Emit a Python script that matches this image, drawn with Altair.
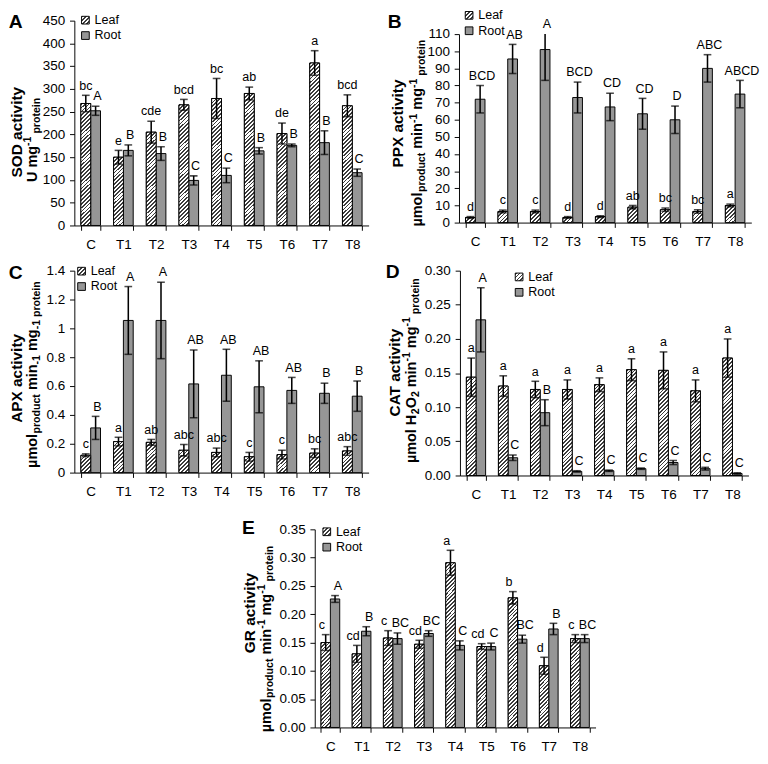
import altair as alt
import pandas as pd

FONT = "Liberation Sans"
ROOT_COLOR = "#969696"

cats = ["C", "T1", "T2", "T3", "T4", "T5", "T6", "T7", "T8"]
organs = ["Leaf", "Root"]

# A - SOD
sod_leaf = [268, 150, 205, 265, 279, 290, 202, 357, 263]
sod_leaf_err = [18, 15, 24, 12, 44, 14, 23, 27, 24]
sod_root = [252, 165, 158, 99, 110, 164, 176, 182, 116]
sod_root_err = [10, 12, 15, 10, 16, 7, 3, 26, 8]
sod_leaf_lab = ["bc", "e", "cde", "bcd", "bc", "ab", "de", "a", "bcd"]
sod_root_lab = ["A", "B", "B", "C", "C", "B", "B", "B", "C"]

# B - PPX
ppx_leaf = [3, 6.5, 6.5, 3, 3.5, 9, 7.5, 6.5, 10]
ppx_leaf_err = [0.5, 0.8, 0.8, 0.5, 0.5, 1, 1, 1, 0.8]
ppx_root = [72, 95.5, 101, 73, 67.5, 63.5, 60, 90, 75]
ppx_root_err = [8, 8.5, 18, 9, 8, 9, 8, 8, 8]
ppx_leaf_lab = ["d", "c", "c", "d", "d", "ab", "bc", "bc", "a"]
ppx_root_lab = ["BCD", "AB", "A", "BCD", "CD", "CD", "D", "ABC", "ABCD"]

# C - APX
apx_leaf = [0.12, 0.215, 0.21, 0.155, 0.14, 0.11, 0.125, 0.135, 0.15]
apx_leaf_err = [0.01, 0.03, 0.02, 0.04, 0.03, 0.03, 0.03, 0.03, 0.03]
apx_root = [0.31, 1.055, 1.055, 0.615, 0.675, 0.595, 0.57, 0.55, 0.53]
apx_root_err = [0.08, 0.235, 0.265, 0.235, 0.18, 0.18, 0.09, 0.07, 0.105]
apx_leaf_lab = ["c", "a", "ab", "abc", "abc", "c", "c", "bc", "abc"]
apx_root_lab = ["B", "A", "A", "AB", "AB", "AB", "AB", "B", "B"]

# D - CAT
cat_leaf = [0.144, 0.131, 0.126, 0.126, 0.133, 0.155, 0.154, 0.124, 0.172]
cat_leaf_err = [0.028, 0.015, 0.012, 0.014, 0.010, 0.016, 0.027, 0.016, 0.028]
cat_root = [0.228, 0.026, 0.092, 0.006, 0.007, 0.010, 0.019, 0.010, 0.003]
cat_root_err = [0.047, 0.004, 0.019, 0.001, 0.001, 0.001, 0.003, 0.002, 0.001]
cat_leaf_lab = ["a", "a", "a", "a", "a", "a", "a", "a", "a"]
cat_root_lab = ["A", "C", "B", "C", "C", "C", "C", "C", "C"]

# E - GR
gr_leaf = [0.150, 0.130, 0.158, 0.147, 0.291, 0.143, 0.229, 0.109, 0.157]
gr_leaf_err = [0.014, 0.015, 0.013, 0.007, 0.022, 0.005, 0.011, 0.015, 0.007]
gr_root = [0.227, 0.170, 0.157, 0.166, 0.145, 0.143, 0.156, 0.174, 0.157]
gr_root_err = [0.006, 0.008, 0.010, 0.005, 0.008, 0.006, 0.007, 0.010, 0.007]
gr_leaf_lab = ["c", "cd", "c", "cd", "a", "cd", "b", "d", "c"]
gr_root_lab = ["A", "B", "BC", "BC", "C", "C", "BC", "B", "BC"]


def make_df(leaf, leaf_err, root, root_err, leaf_lab, root_lab):
    rows = []
    for i, c in enumerate(cats):
        rows.append(dict(cat=c, organ="Leaf", value=leaf[i], err=leaf_err[i], lab=leaf_lab[i]))
        rows.append(dict(cat=c, organ="Root", value=root[i], err=root_err[i], lab=root_lab[i]))
    return pd.DataFrame(rows)


# ---------- hatch pattern (striped linear gradient) ----------
N_PER = 64
PERIOD = 4.0
FRAC = 0.45
_stops = []
for k in range(N_PER):
    a = k / N_PER
    b = (k + FRAC) / N_PER
    c = (k + 1) / N_PER
    _stops += [
        "{offset:%.5f,color:'#3c3c3c'}" % a,
        "{offset:%.5f,color:'#3c3c3c'}" % b,
        "{offset:%.5f,color:'#ffffff'}" % b,
        "{offset:%.5f,color:'#ffffff'}" % c,
    ]
STOPS = "[" + ",".join(_stops) + "]"


def hatch_expr(kpx, w=10.0):
    H = "(datum.value*%.6f)" % kpx
    den = "(%.3f+%s*%s)" % (w * w, H, H)
    return "{gradient:'linear',x1:0,y1:0,x2:%.4f/%s,y2:%.4f*%s/%s,stops:%s}" % (
        N_PER * PERIOD * w, den, N_PER * PERIOD, H, den, STOPS)


def legend_expr(s=8.0):
    d = N_PER * PERIOD * s / (2 * s * s)
    return "{gradient:'linear',x1:0,y1:0,x2:%.4f,y2:%.4f,stops:%s}" % (d, d, STOPS)


# ---------- rotated axis titles with sub/superscripts ----------
AW = {" ": 278, "-": 333, "1": 556, "2": 556, "A": 722, "C": 722, "D": 722, "G": 778,
      "H": 722, "O": 778, "P": 667, "R": 722, "S": 667, "T": 611, "U": 722, "X": 667,
      "a": 556, "c": 556, "d": 611, "e": 556, "g": 611, "i": 278, "l": 278, "m": 889,
      "n": 611, "o": 611, "p": 611, "r": 389, "t": 333, "u": 611, "v": 556, "y": 556,
      "µ": 611}
MAIN_FS = 15
SMALL_FS = 11
SHIFT = {"n": 0, "sup": -6, "sub": 3}


def tw(s, fs):
    return sum(AW.get(ch, 556) for ch in s) * fs / 1000.0


def title_marks(line1, line2, x1, x2, yc1, yc2):
    layers = [alt.Chart(pd.DataFrame({"t": [line1]})).mark_text(
        angle=270, align="center", baseline="alphabetic", font=FONT, fontSize=16,
        fontWeight="bold", color="black").encode(
        text="t:N", x=alt.value(x1), y=alt.value(yc1))]
    sizes = [MAIN_FS if kind == "n" else SMALL_FS for _, kind in line2]
    total = sum(tw(s, fs) for (s, _), fs in zip(line2, sizes))
    y = yc2 + total / 2.0
    for (s, kind), fs in zip(line2, sizes):
        lead = len(s) - len(s.lstrip(" "))
        ystart = y - tw(" " * lead, fs)
        layers.append(alt.Chart(pd.DataFrame({"t": [s.strip()]})).mark_text(
            angle=270, align="left", baseline="alphabetic", font=FONT, fontSize=fs,
            fontWeight="bold", color="black").encode(
            text="t:N", x=alt.value(x2 + SHIFT[kind]), y=alt.value(ystart)))
        y -= tw(s, fs)
    return layers


def panel(df, ymax, ticks, fmt, line1, line2, tpos, letter, width, height, leg_xy,
          let_xy, lab_dx=(0, 2), ytop=0):
    kpx = (height - ytop) / ymax
    if ytop:
        yscale = alt.Scale(domain=[0, ymax], nice=False, range=[height, ytop])
    else:
        yscale = alt.Scale(domain=[0, ymax], nice=False)
    yaxis = alt.Axis(values=ticks, format=fmt, title=None, labelPadding=5)

    def Y(f):
        return alt.Y(f, scale=yscale, axis=yaxis, stack=None)

    X = alt.X("cat:N", sort=cats, scale=alt.Scale(paddingInner=0.4, paddingOuter=0.2),
              axis=alt.Axis(title=None, labelAngle=0, tickBand="extent", labelPadding=8))
    XO = alt.XOffset("organ:N", sort=organs, scale=alt.Scale(paddingInner=0, paddingOuter=0))

    base = alt.Chart(df).transform_calculate(
        lo="datum.value - datum.err",
        hi="datum.value + datum.err",
        hc="min(datum.value + datum.err, %s)" % ymax,
    )
    bars = base.mark_bar(stroke="black", strokeWidth=1).encode(
        x=X, xOffset=XO, y=Y("value:Q"),
        fill=alt.Fill("organ:N", sort=organs,
                      scale=alt.Scale(domain=organs,
                                      range=[alt.ExprRef(expr=legend_expr()), ROOT_COLOR]),
                      legend=alt.Legend(orient="none", legendX=leg_xy[0], legendY=leg_xy[1],
                                        title=None, direction="vertical", symbolType="square",
                                        symbolSize=64, symbolStrokeColor="black",
                                        symbolStrokeWidth=1, labelFontSize=13, labelFont=FONT,
                                        labelColor="black", labelOffset=3, rowPadding=2,
                                        padding=0)),
    )
    hatch = base.transform_filter("datum.organ == 'Leaf'").transform_calculate(
        grad=hatch_expr(kpx)
    ).mark_bar(stroke="black", strokeWidth=1).encode(
        x=X, xOffset=XO, y=Y("value:Q"),
        fill=alt.Fill("grad:N", scale=None, legend=None),
    )
    rules = base.mark_rule(color="black", strokeWidth=1.6).encode(
        x=X, xOffset=XO, y=Y("lo:Q"), y2="hc:Q")
    cap_hi = base.transform_filter("datum.hi <= %s" % ymax).mark_tick(
        color="black", thickness=1.6, size=8, orient="horizontal").encode(
        x=X, xOffset=XO, y=Y("hi:Q"))
    cap_lo = base.mark_tick(color="black", thickness=1.6, size=8, orient="horizontal").encode(
        x=X, xOffset=XO, y=Y("lo:Q"))
    lab_leaf = base.transform_filter("datum.organ == 'Leaf'").mark_text(
        baseline="bottom", dy=-3, dx=lab_dx[0], fontSize=13, font=FONT, color="black").encode(
        x=X, xOffset=XO, y=Y("hc:Q"), text="lab:N")
    lab_root = base.transform_filter("datum.organ == 'Root'").mark_text(
        baseline="bottom", dy=-3, dx=lab_dx[1], fontSize=13, font=FONT, color="black").encode(
        x=X, xOffset=XO, y=Y("hc:Q"), text="lab:N")
    plet = alt.Chart(pd.DataFrame({"t": [letter]})).mark_text(
        fontSize=20, fontWeight="bold", font=FONT, color="black").encode(
        text="t:N", x=alt.value(let_xy[0]), y=alt.value(let_xy[1]))
    titles = title_marks(line1, line2, *tpos)
    return alt.layer(bars, hatch, rules, cap_hi, cap_lo, lab_leaf, lab_root, plet,
                     *titles).properties(width=width, height=height)


dfA = make_df(sod_leaf, sod_leaf_err, sod_root, sod_root_err, sod_leaf_lab, sod_root_lab)
dfB = make_df(ppx_leaf, ppx_leaf_err, ppx_root, ppx_root_err, ppx_leaf_lab, ppx_root_lab)
dfC = make_df(apx_leaf, apx_leaf_err, apx_root, apx_root_err, apx_leaf_lab, apx_root_lab)
dfD = make_df(cat_leaf, cat_leaf_err, cat_root, cat_root_err, cat_leaf_lab, cat_root_lab)
dfE = make_df(gr_leaf, gr_leaf_err, gr_root, gr_root_err, gr_leaf_lab, gr_root_lab)

L2_PROD = [("µmol", "n"), ("product", "sub"), (" min", "n"), ("-1", "sup"), (" mg", "n"),
           ("-1", "sup"), (" protein", "sub")]

pA = panel(dfA, 450, list(range(0, 451, 50)), "d",
           "SOD activity", [("U mg", "n"), ("-1", "sup"), (" protein", "sub")],
           (-54, -39, 116, 124), "A", 306, 213, (5, -7), (-61, 2))
pB = panel(dfB, 110, list(range(0, 111, 10)), "d",
           "PPX activity", L2_PROD,
           (-58, -38, 107, 117), "B", 304, 210, (4, -12), (-67, 2), ytop=14)
pC = panel(dfC, 1.4, [0, 0.2, 0.4, 0.6, 0.8, 1.0, 1.2, 1.4], ".1~f",
           "APX activity",
           [("µmol", "n"), ("product", "sub"), (" min", "n"), ("-1", "sub"), (" mg", "n"),
            ("-1 protein", "sub")],
           (-54, -39, 112, 108), "C", 306, 210, (1, -6), (-61, 3))
pD = panel(dfD, 0.30, [0, 0.05, 0.10, 0.15, 0.20, 0.25, 0.30], ".2f",
           "CAT activity",
           [("µmol H", "n"), ("2", "sub"), ("O", "n"), ("2", "sub"), (" min", "n"),
            ("-1", "sup"), (" mg", "n"), ("-1", "sup"), (" protein", "sub")],
           (-62, -45.5, 106, 104), "D", 300, 213, (55, 0), (-70, 2))
pE = panel(dfE, 0.35, [0, 0.05, 0.10, 0.15, 0.20, 0.25, 0.30, 0.35], ".2f",
           "GR activity", L2_PROD,
           (-62, -46, 87, 114), "E", 292, 206, (6, -4), (-69, -1), lab_dx=(-4, 3))

spacer = alt.Chart(pd.DataFrame({"t": [""]})).mark_text().encode(text="t:N").properties(
    width=150, height=20)


def indep(c):
    return c.resolve_scale(fill="independent", x="independent", y="independent",
                           xOffset="independent").resolve_legend(fill="independent")


row1 = indep(alt.hconcat(pA, pB, spacing=19))
row2 = indep(alt.hconcat(pC, pD, spacing=17))
row3 = indep(alt.hconcat(spacer, pE, spacing=24))
top = indep(alt.vconcat(row1, row2, spacing=12))
chart = indep(alt.vconcat(top, row3, spacing=18)).properties(
    padding={"left": 0, "top": -14, "right": 0, "bottom": 0}, background="white"
).configure_view(stroke=None).configure_axis(
    labelFont=FONT, titleFont=FONT, labelFontSize=14, titleFontSize=15,
    titleFontWeight="bold", labelColor="black", titleColor="black",
    domainColor="black", tickColor="black", grid=False, tickSize=5
)

chart.save("out.html", embed_options={"renderer": "svg", "actions": False})
